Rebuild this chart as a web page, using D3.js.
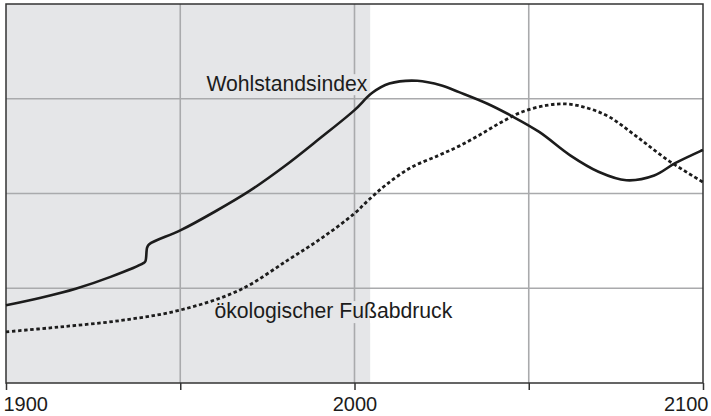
<!DOCTYPE html>
<html>
<head>
<meta charset="utf-8">
<script src="https://cdn.jsdelivr.net/npm/d3@7"></script>
<style>
  body { margin: 0; background: #fff; }
  svg { display: block; font-family: "Liberation Sans", Arial, Helvetica, sans-serif; }
</style>
</head>
<body>
<div id="chart"></div>
<script>
// Wohlstandsindex (solid line)
var wohlYears  = [1900, 1910, 1920, 1930, 1939.4, 1940.0, 1940.5, 1941.1, 1950, 1960, 1970, 1980, 1990, 2000, 2005, 2010, 2018, 2025, 2030, 2038, 2045, 2053, 2062, 2070, 2078, 2086, 2092, 2100];
var wohlValues = [0.82, 0.90, 0.995, 1.12, 1.265, 1.285, 1.43, 1.465, 1.61, 1.81, 2.03, 2.29, 2.58, 2.88, 3.06, 3.16, 3.19, 3.14, 3.07, 2.95, 2.82, 2.65, 2.40, 2.23, 2.14, 2.19, 2.32, 2.46];

// ökologischer Fußabdruck (dotted line)
var fussYears  = [1900, 1915, 1933, 1950, 1967, 1981, 1991, 2000, 2004, 2009, 2016, 2024, 2030, 2036, 2042, 2048, 2055, 2061, 2067, 2073, 2081, 2090, 2100];
var fussValues = [0.54, 0.59, 0.66, 0.77, 0.98, 1.30, 1.54, 1.79, 1.93, 2.09, 2.27, 2.40, 2.50, 2.62, 2.75, 2.86, 2.93, 2.945, 2.90, 2.81, 2.60, 2.35, 2.12];

var xTicks = [1900, 1950, 2000, 2050, 2100];
var xTickLabels = ['1900', '', '2000', '', '2100'];
var yGrid = [1, 2, 3];
var pastEnd = 2004.5;

var width = 711, height = 416;
var margin = {top: 4, right: 8, bottom: 33, left: 6};

var x = d3.scaleLinear()
  .domain([1900, 2100])
  .range([margin.left, width - margin.right]);
var y = d3.scaleLinear()
  .domain([0, 4])
  .range([height - margin.bottom, margin.top]);

var svg = d3.select('#chart')
  .append('svg')
  .attr('width', width)
  .attr('height', height);

var shade = '#e5e6e8';
var gridColor = '#a9aaac';
var ink = '#1c1c1c';

// past period shading
svg.append('rect')
  .attr('x', x(1900))
  .attr('y', y(4))
  .attr('width', x(pastEnd) - x(1900))
  .attr('height', y(0) - y(4))
  .attr('fill', shade);

// grid
svg.append('g')
  .selectAll('line')
  .data(yGrid)
  .enter().append('line')
  .attr('x1', x(1900)).attr('x2', x(2100))
  .attr('y1', function(d) { return y(d); })
  .attr('y2', function(d) { return y(d); })
  .attr('stroke', gridColor)
  .attr('stroke-width', 1.6);

svg.append('g')
  .selectAll('line')
  .data(xTicks.slice(1, -1))
  .enter().append('line')
  .attr('x1', function(d) { return x(d); })
  .attr('x2', function(d) { return x(d); })
  .attr('y1', y(4)).attr('y2', y(0))
  .attr('stroke', gridColor)
  .attr('stroke-width', 1.6);

// label knock-outs (background colour behind the text)
var labels = [
  {text: 'Wohlstandsindex', year: 1957.5, value: 3.08},
  {text: 'ökologischer Fußabdruck', year: 1959.8, value: 0.685}
];

var labelG = svg.append('g');
var textG = svg.append('g');

// axis frame
var axisG = svg.append('g')
  .attr('transform', 'translate(0,' + y(0) + ')')
  .call(d3.axisBottom(x)
    .tickValues(xTicks)
    .tickSize(7)
    .tickFormat(function(d, i) { return xTickLabels[i]; }));
axisG.select('.domain').remove();
axisG.selectAll('line')
  .attr('stroke', '#333')
  .attr('stroke-width', 1.5);
axisG.selectAll('text')
  .attr('fill', ink)
  .style('font-size', '20px')
  .attr('y', 10)
  .attr('dy', '0.88em')
  .attr('text-anchor', function(d, i) {
    return i === 0 ? 'start' : (i === xTicks.length - 1 ? 'end' : 'middle');
  })
  .attr('dx', function(d, i) {
    return i === 0 ? -3 : (i === xTicks.length - 1 ? 5 : 0);
  });

svg.append('rect')
  .attr('x', x(1900))
  .attr('y', y(4))
  .attr('width', x(2100) - x(1900))
  .attr('height', y(0) - y(4))
  .attr('fill', 'none')
  .attr('stroke', '#333')
  .attr('stroke-width', 1.5);

labels.forEach(function(l) {
  var t = textG.append('text')
    .attr('x', x(l.year))
    .attr('y', y(l.value))
    .attr('fill', ink)
    .style('font-size', '21.2px')
    .text(l.text);
  var b = t.node().getBBox();
  var split = Math.min(Math.max(x(pastEnd), b.x - 2), b.x + b.width + 2);
  labelG.append('rect')
    .attr('x', b.x - 2).attr('y', b.y + 2)
    .attr('width', split - (b.x - 2)).attr('height', b.height - 2)
    .attr('fill', shade);
  labelG.append('rect')
    .attr('x', split).attr('y', b.y + 2)
    .attr('width', Math.max(0, b.x + b.width + 2 - split)).attr('height', b.height - 2)
    .attr('fill', '#fff');
});

// lines
var line = d3.line()
  .x(function(d) { return x(d[0]); })
  .y(function(d) { return y(d[1]); })
  .curve(d3.curveCatmullRom.alpha(0.5));

svg.append('path')
  .datum(d3.zip(fussYears, fussValues))
  .attr('d', line)
  .attr('fill', 'none')
  .attr('stroke', ink)
  .attr('stroke-width', 2.8)
  .attr('stroke-dasharray', '3.5,2.6');

svg.append('path')
  .datum(d3.zip(wohlYears, wohlValues))
  .attr('d', line)
  .attr('fill', 'none')
  .attr('stroke', ink)
  .attr('stroke-width', 2.6);
</script>
</body>
</html>
